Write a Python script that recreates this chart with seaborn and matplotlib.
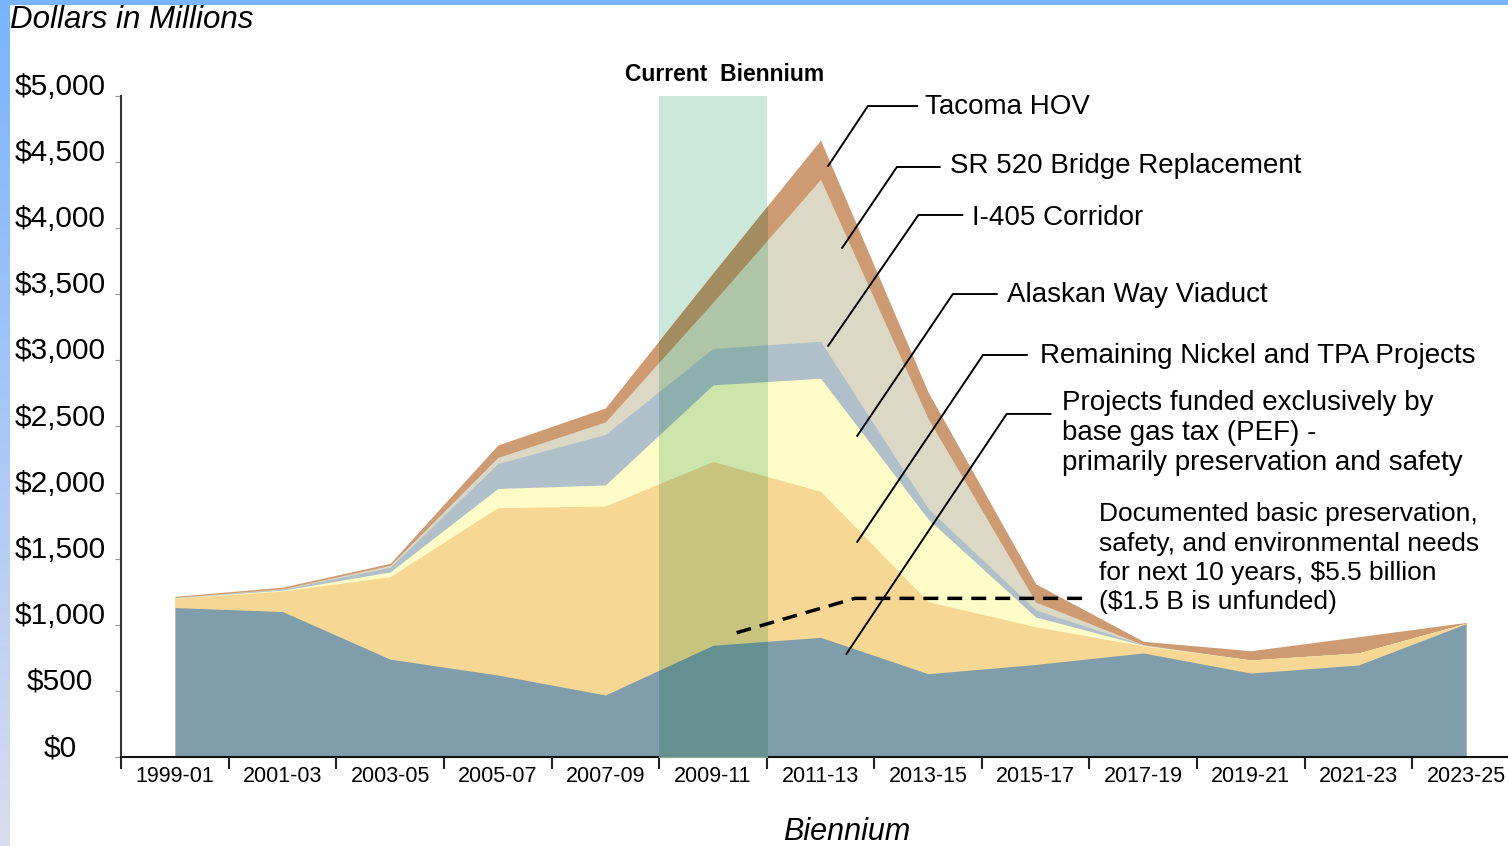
import numpy as np
import pandas as pd
import matplotlib.pyplot as plt
import matplotlib.colors as mcolors
import seaborn as sns
from matplotlib.patches import Rectangle
from matplotlib.transforms import ScaledTranslation

# chart data (millions of dollars per biennium)
bienniums = ['1999-01', '2001-03', '2003-05', '2005-07', '2007-09', '2009-11', '2011-13',
             '2013-15', '2015-17', '2017-19', '2019-21', '2021-23', '2023-25']
pef = [1130, 1100, 740, 620, 469, 845, 905, 630, 700, 787, 635, 696, 1008]
nickel_tpa = [70, 155, 624, 1266, 1430, 1390, 1105, 545, 285, 53, 99, 91, 4]
alaskan_way = [3, 7, 36, 145, 159, 580, 855, 625, 74, 5, 0, 0, 0]
i405 = [2, 6, 35, 189, 382, 275, 280, 80, 53, 2, 0, 0, 0]
sr520 = [2, 5, 15, 46, 95, 350, 1225, 680, 60, 2, 0, 0, 0]
tacoma_hov = [8, 12, 15, 94, 105, 220, 297, 200, 138, 26, 70, 123, 6]

# documented needs (dashed line)
needs_x = [5.22, 6.32, 8.46]
needs_y = [940, 1200, 1200]

yticks = list(range(0, 5001, 500))
ytick_labels = [r'\$' + f'{v:,}' for v in yticks]

layer_colors = ['#7f9dab', '#f7d794', '#fffcc8', '#b0c0ca', '#dbd8c5', '#cd9a72']
band_color = '#cce8da'

# annotation labels: text, text position, leader line
labels = [
    ('Tacoma HOV', (6.97, 4917), [(6.90, 4924), (6.44, 4924), (6.07, 4470)]),
    ('SR 520 Bridge Replacement', (7.20, 4470), [(7.11, 4463), (6.71, 4463), (6.20, 3850)]),
    ('I-405 Corridor', (7.41, 4077), [(7.32, 4100), (6.91, 4100), (6.07, 3109)]),
    ('Alaskan Way Viaduct', (7.73, 3495), [(7.64, 3502), (7.23, 3502), (6.34, 2428)]),
    ('Remaining Nickel and TPA Projects', (8.04, 3033), [(7.92, 3041), (7.51, 3041), (6.34, 1626)]),
    ('Projects funded exclusively by\nbase gas tax (PEF) -\nprimarily preservation and safety',
     (8.24, 2451), [(8.14, 2595), (7.73, 2595), (6.24, 779)]),
]
needs_text = ('Documented basic preservation,\nsafety, and environmental needs\n'
              r'for next 10 years, \$5.5 billion' + '\n' + r'(\$1.5 B is unfunded)')

df = pd.DataFrame({'PEF': pef, 'Nickel/TPA': nickel_tpa, 'Alaskan Way': alaskan_way,
                   'I-405': i405, 'SR 520': sr520, 'Tacoma HOV': tacoma_hov}, index=bienniums)
tops = df.cumsum(axis=1)
x = np.arange(len(bienniums))

sns.set_theme(style='white')
plt.rcParams['font.family'] = ['Liberation Sans', 'DejaVu Sans']
plt.rcParams['text.color'] = 'black'
plt.rcParams['xtick.color'] = 'black'
plt.rcParams['ytick.color'] = 'black'

fig = plt.figure(figsize=(15.08, 8.46), dpi=100)
ax = fig.add_axes([121 / 1508, 1 - 757 / 846, (1508 - 121) / 1508, (757 - 96) / 846])

# current biennium band
ax.axvspan(4.5, 5.5, color=band_color, lw=0, zorder=1)

# stacked areas, drawn from the top layer down so there are no seams
mint = np.array(mcolors.to_rgb(band_color))
clip = Rectangle((4.5, 0), 1, 5000, transform=ax.transData)
for col, c in reversed(list(zip(tops.columns, layer_colors))):
    ax.fill_between(x, 0, tops[col], color=c, lw=0, zorder=2)
    # colours seen through the band (multiply blend)
    tinted = tuple(np.array(mcolors.to_rgb(c)) * mint)
    poly = ax.fill_between(x, 0, tops[col], color=tinted, lw=0, zorder=3)
    poly.set_clip_path(clip)

# needs line
sns.lineplot(x=needs_x, y=needs_y, ax=ax, color='black', linewidth=2.5, zorder=5)
ax.lines[-1].set_dashes((4.3, 2.6))

# leader lines and labels
for text, (tx, ty), pts in labels:
    lx, ly = zip(*pts)
    ax.plot(lx, ly, color='black', lw=1.4, zorder=6, clip_on=False)
    ax.text(tx, ty, text, fontsize=20, ha='left', va='center', linespacing=1.22)
ax.text(8.59, 1502, needs_text, fontsize=19, ha='left', va='center', linespacing=1.28)

ax.text(5.11, 5159, 'Current  Biennium', fontsize=16.5, fontweight='bold', ha='center', va='center',
        clip_on=False)

# axes
ax.set_xlim(-0.502, 12.39)
ax.set_ylim(0, 5000)
ax.set_xticks(np.arange(-0.5, 12.5, 1))
ax.set_xticklabels([])
ax.set_xticks(x, minor=True)
ax.set_xticklabels(bienniums, minor=True, fontsize=15.5)
ax.tick_params(axis='x', which='major', direction='out', length=8.6, width=1.5, color='#222', bottom=True)
ax.tick_params(axis='x', which='minor', length=0, pad=6.5, bottom=True)

ax.set_yticks(yticks)
ax.set_yticklabels(ytick_labels, fontsize=21.5)
ax.tick_params(axis='y', direction='out', length=4, width=0.8, color='#999', left=True, pad=40)
for lab in ax.get_yticklabels():
    lab.set_ha('center')
    lab.set_transform(lab.get_transform() + ScaledTranslation(0, 12 / 100, fig.dpi_scale_trans))

sns.despine(ax=ax)
ax.spines['left'].set_color('#333')
ax.spines['left'].set_linewidth(1.5)
ax.spines['bottom'].set_color('#111')
ax.spines['bottom'].set_linewidth(1.5)
ax.grid(False)

fig.text(10 / 1508, 1 - 20 / 846, 'Dollars in Millions', fontsize=22.5, style='italic', ha='left', va='center')
fig.text(847 / 1508, 1 - 832 / 846, 'Biennium', fontsize=22, style='italic', ha='center', va='center')

# blue frame edges
gax = fig.add_axes([0, 0, 10 / 1508, 1])
top_c = np.array(mcolors.to_rgb('#78b4ff'))
bot_c = np.array(mcolors.to_rgb('#d8dcee'))
t = np.linspace(0, 1, 200)[:, None, None]
gax.imshow(top_c * (1 - t) + bot_c * t, aspect='auto')
gax.axis('off')
fig.add_artist(Rectangle((0, 1 - 5 / 846), 1, 5 / 846, transform=fig.transFigure, color='#78b4ff', lw=0))

fig.savefig('out.png', dpi=100)
